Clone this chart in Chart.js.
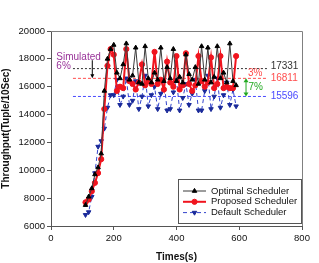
<!DOCTYPE html>
<html><head><meta charset="utf-8">
<script src="https://cdn.jsdelivr.net/npm/chart.js@4/dist/chart.umd.min.js"></script>
<style>html,body{margin:0;padding:0;background:#fff}#w{width:319px;height:263px}</style>
</head><body><div id="w"><canvas id="c" width="319" height="263"></canvas></div>
<script>
const times = [110,120,130,140,150,160,170,180,190,200,210,220,230,240,250,260,270,280,290,300,310,320,330,340,350,360,370,380,390,400,410,420,430,440,450,460,470,480,490,500,510,520,530,540,550,560,570,580,590];
const optimal = [7500,8100,8700,9700,10200,11200,15700,18000,18700,19000,17000,16600,17600,19100,16500,16800,18800,16300,16200,18900,16600,16300,17000,16500,18800,16400,17400,16600,18700,16400,16700,16300,18300,16900,16500,17400,16200,18900,16500,18800,16300,16700,18900,16600,17000,16300,19100,16400,16100];
const proposed = [7700,7900,8500,9100,9800,10800,14400,17500,18700,18300,15700,16000,15900,18700,16400,16200,15800,16300,17600,16100,16400,16200,18500,16200,16500,15800,17800,16300,16000,18200,15800,16100,18400,16200,15700,16100,18200,16400,16000,16300,18100,15900,16200,18200,15900,16000,15900,15900,18200];
const defaultS = [6800,7000,8100,9800,11700,12100,13000,14500,15400,15400,16500,14700,15300,16600,14700,15000,16400,14400,15300,16800,14600,15400,16000,14400,15500,16500,14300,14400,15600,16500,14300,15200,16200,14700,15500,16500,14300,14300,15700,16800,14400,15300,16600,14500,15400,16300,14700,15800,14600];
const seriesNames = ['Optimal Scheduler','Proposed Scheduler','Default Scheduler'];
const refValues = [17300, 16600, 15300];
const refLabels = ['17331','16811','15596'];
const refSpan = [70, 690];
const xTicks = [0,200,400,600,800];
const yTicks = [6000,8000,10000,12000,14000,16000,18000,20000];

const pts = (ys) => ys.map((y,i)=>({x:times[i], y}));
const refLine = (v) => refSpan.map(x=>({x, y:v}));
const refColors = ['#333333','#ff4d4d','#4a4aff'];

const FONT = 'Liberation Sans, Arial, sans-serif';

const frame = {
  id:'frame',
  afterDraw(chart){
    const {ctx, chartArea:a, scales:{x,y}} = chart;
    ctx.save();
    ctx.strokeStyle='#808080'; ctx.lineWidth=1;
    ctx.beginPath();
    ctx.moveTo(a.left, a.top+0.5); ctx.lineTo(a.right+0.5, a.top+0.5); ctx.lineTo(a.right+0.5, a.bottom);
    ctx.stroke();
    // ref labels
    ctx.font = '10px '+FONT; ctx.textBaseline='middle'; ctx.textAlign='left';
    const lblY = [refValues[0]+180, refValues[1]+40, refValues[2]-20];
    refLabels.forEach((t,i)=>{ ctx.fillStyle=refColors[i]; ctx.fillText(t, x.getPixelForValue(700), y.getPixelForValue(lblY[i])); });
    // 3%
    ctx.fillStyle='#ff4d4d'; ctx.fillText('3%', x.getPixelForValue(628), y.getPixelForValue(17000));
    // 7% with green double arrow
    const ax = x.getPixelForValue(620);
    const y1 = y.getPixelForValue(16600), y2 = y.getPixelForValue(15300);
    ctx.strokeStyle='#22aa22'; ctx.fillStyle='#22aa22'; ctx.lineWidth=1;
    ctx.beginPath(); ctx.moveTo(ax+0.5,y1+2); ctx.lineTo(ax+0.5,y2-2); ctx.stroke();
    ctx.beginPath(); ctx.moveTo(ax+0.5,y1); ctx.lineTo(ax-2,y1+4); ctx.lineTo(ax+3,y1+4); ctx.closePath(); ctx.fill();
    ctx.beginPath(); ctx.moveTo(ax+0.5,y2); ctx.lineTo(ax-2,y2-4); ctx.lineTo(ax+3,y2-4); ctx.closePath(); ctx.fill();
    ctx.fillText('7%', ax+3, y.getPixelForValue(15950));
    // Simulated 6%
    ctx.fillStyle='#993399';
    ctx.fillText('Simulated', x.getPixelForValue(17), y.getPixelForValue(18150));
    ctx.fillText('6%', x.getPixelForValue(17), y.getPixelForValue(17450));
    const bx = x.getPixelForValue(130);
    const by1 = y.getPixelForValue(17900), by2 = y.getPixelForValue(16600);
    ctx.strokeStyle='#000'; ctx.fillStyle='#000';
    ctx.beginPath(); ctx.moveTo(bx+0.5,by1); ctx.lineTo(bx+0.5,by2-3); ctx.stroke();
    ctx.beginPath(); ctx.moveTo(bx+0.5,by2); ctx.lineTo(bx-1.5,by2-4); ctx.lineTo(bx+2.5,by2-4); ctx.closePath(); ctx.fill();
    // legend
    const L=178, T=179, R=a.right, B=223;
    ctx.fillStyle='#fff'; ctx.fillRect(L,T,R-L,B-T);
    ctx.strokeStyle='#555'; ctx.lineWidth=1; ctx.strokeRect(L+0.5,T+0.5,R-L-1,B-T);
    ctx.font='9.5px '+FONT; ctx.textAlign='left'; ctx.textBaseline='middle';
    [0,1,2].forEach(i=>{
      const ds = chart.data.datasets[i];
      const yy = 191 + i*10.8;
      ctx.save();
      ctx.strokeStyle=ds.borderColor; ctx.lineWidth=ds.borderWidth; ctx.setLineDash(ds.borderDash||[]);
      ctx.beginPath(); ctx.moveTo(183,yy); ctx.lineTo(206,yy); ctx.stroke();
      ctx.restore();
      ctx.save(); ctx.fillStyle=ds.pointBackgroundColor; ctx.strokeStyle=ds.pointBorderColor; ctx.lineWidth=1;
      Chart.helpers.drawPoint(ctx, {pointStyle:ds.pointStyle, rotation:ds.pointRotation||0, radius:ds.pointRadius, borderWidth:1}, 194.5, yy);
      ctx.restore();
      ctx.fillStyle='#111'; ctx.fillText(seriesNames[i], 211, yy);
    });
    ctx.restore();
  }
};

new Chart(document.getElementById('c'), {
  type:'line',
  data:{datasets:[
    {label:seriesNames[0], data:pts(optimal), borderColor:'#3a3a3a', borderWidth:1, pointStyle:'triangle', pointRadius:2.6, pointBackgroundColor:'#000', pointBorderColor:'#000', pointBorderWidth:1, tension:0, order:0},
    {label:seriesNames[1], data:pts(proposed), borderColor:'#f0141e', borderWidth:2, pointStyle:'circle', pointRadius:2.6, pointBackgroundColor:'#f0141e', pointBorderColor:'#f0141e', pointBorderWidth:1, tension:0, order:0},
    {label:seriesNames[2], data:pts(defaultS), borderColor:'#3344cc', borderWidth:1, borderDash:[4,3], pointStyle:'triangle', pointRotation:180, pointRadius:2.6, pointBackgroundColor:'#1a2a9a', pointBorderColor:'#1a2a9a', pointBorderWidth:1, tension:0, order:0},
    {data:refLine(refValues[0]), borderColor:refColors[0], borderWidth:1, borderDash:[2,2], pointRadius:0, order:1},
    {data:refLine(refValues[1]), borderColor:refColors[1], borderWidth:1, borderDash:[3,2], pointRadius:0, order:1},
    {data:refLine(refValues[2]), borderColor:refColors[2], borderWidth:1, borderDash:[3,2], pointRadius:0, order:1}
  ]},
  options:{
    responsive:false, animation:false, events:[],
    layout:{padding:{top:31, right:17, left:0, bottom:0}},
    plugins:{legend:{display:false}, tooltip:{enabled:false}},
    scales:{
      x:{type:'linear', min:0, max:800, afterBuildTicks:(s)=>{s.ticks=xTicks.map(v=>({value:v}));},
        afterFit:(s)=>{s.height=37;},
        border:{display:true,color:'#555',width:1},
        grid:{display:true, drawOnChartArea:false, drawTicks:true, tickLength:4, color:'#555'},
        ticks:{color:'#111', font:{family:FONT, size:9.5}, padding:3, maxRotation:0, callback:(v)=>String(v)},
        title:{display:true, text:'Times(s)', color:'#111', font:{family:FONT, size:10, weight:'bold'}, padding:{top:5,bottom:0}}},
      y:{min:6000, max:20000, afterBuildTicks:(s)=>{s.ticks=yTicks.map(v=>({value:v}));},
        afterFit:(s)=>{s.width=51;},
        border:{display:true,color:'#555',width:1},
        grid:{display:true, drawOnChartArea:false, drawTicks:true, tickLength:4, color:'#555'},
        ticks:{color:'#111', font:{family:FONT, size:9.5}, padding:2, callback:(v)=>String(v)},
        title:{display:true, text:'Throughput(Tuple/10Sec)', color:'#111', font:{family:FONT, size:10, weight:'bold'}, padding:{top:0,bottom:2}}}
    }
  },
  plugins:[frame]
});
</script></body></html>
